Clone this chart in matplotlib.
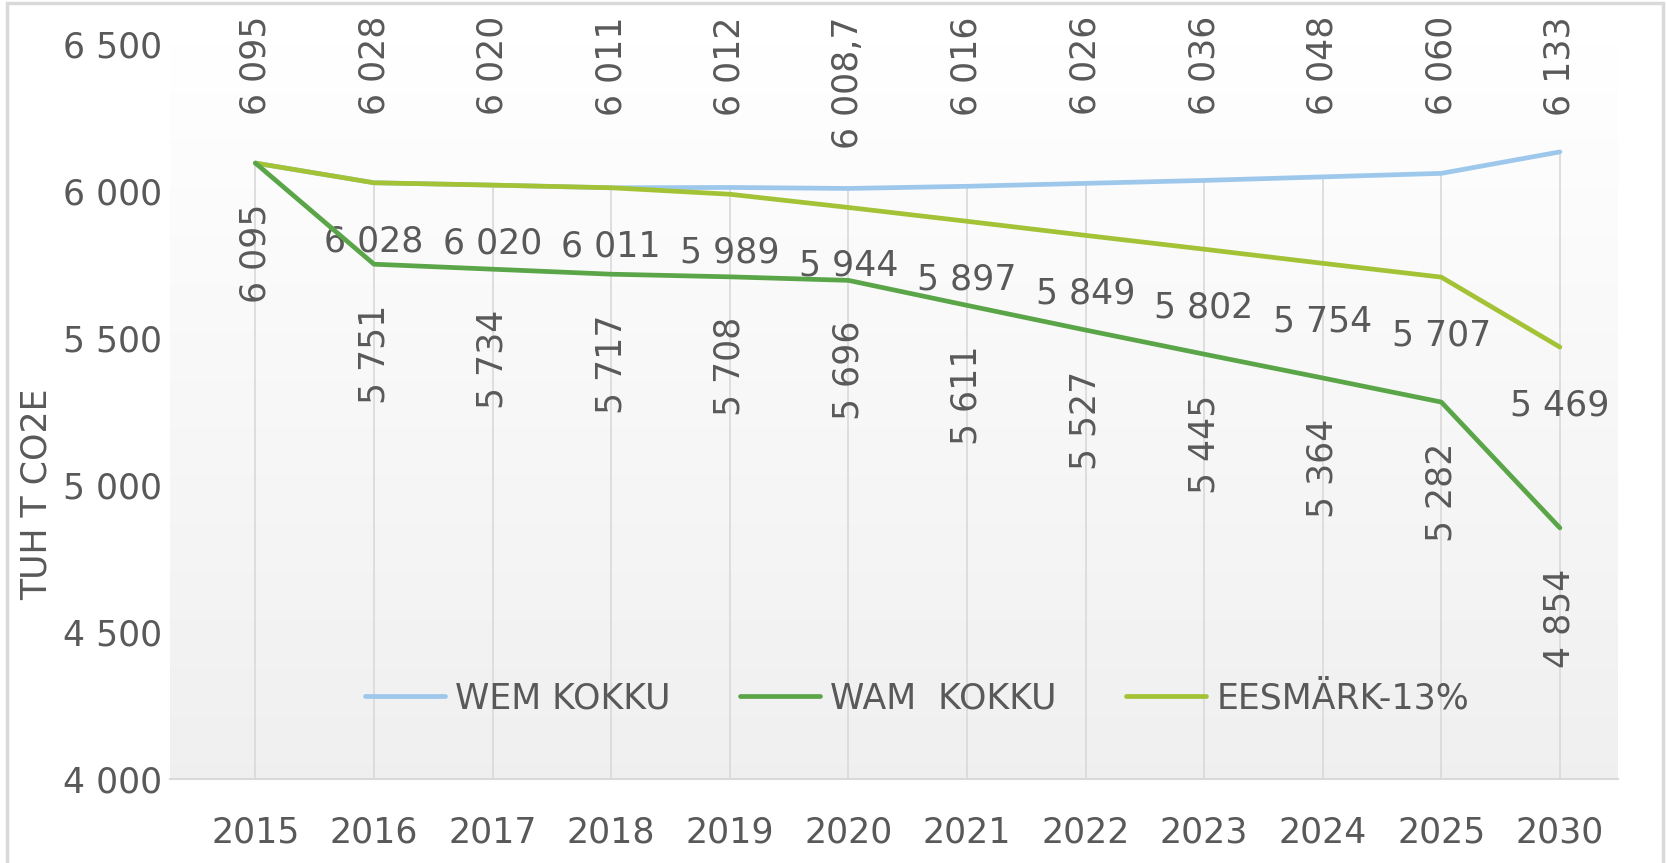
import numpy as np
import matplotlib
matplotlib.use("Agg")
import matplotlib.pyplot as plt
from matplotlib.patches import Rectangle

years = ["2015", "2016", "2017", "2018", "2019", "2020", "2021", "2022", "2023", "2024", "2025", "2030"]
wem = [6095, 6028, 6020, 6011, 6012, 6008.7, 6016, 6026, 6036, 6048, 6060, 6133]
wam = [6095, 5751, 5734, 5717, 5708, 5696, 5611, 5527, 5445, 5364, 5282, 4854]
target = [6095, 6028, 6020, 6011, 5989, 5944, 5897, 5849, 5802, 5754, 5707, 5469]
wem_labels = ["6 095", "6 028", "6 020", "6 011", "6 012", "6 008,7", "6 016", "6 026", "6 036", "6 048", "6 060", "6 133"]
wam_labels = ["6 095", "5 751", "5 734", "5 717", "5 708", "5 696", "5 611", "5 527", "5 445", "5 364", "5 282", "4 854"]
target_labels = [None, "6 028", "6 020", "6 011", "5 989", "5 944", "5 897", "5 849", "5 802", "5 754", "5 707", "5 469"]
yticks = [4000, 4500, 5000, 5500, 6000, 6500]

c_wem = "#9DC8EC"
c_wam = "#5AA548"
c_target = "#A4C236"
txt = "#595959"
fs = 25

plt.rcParams["font.family"] = "DejaVu Sans"

fig = plt.figure(figsize=(16.67, 8.63), dpi=100)
ax = fig.add_axes([0.102, 0.0974, 0.8686, 0.8516])

x = np.arange(len(years))

# gradient plot area
grad = np.linspace(1.0, 0.94, 256).reshape(-1, 1)
ax.imshow(np.dstack([grad, grad, grad]), extent=[0, 1, 0, 1], transform=ax.transAxes,
          aspect="auto", zorder=0)

# drop lines
tops = np.max([wem, wam, target], axis=0)
ax.vlines(x, 4000, tops, color="#d9d9d9", lw=1.2, zorder=1)

ax.plot(x, wem, color=c_wem, lw=3.4, label="WEM KOKKU", zorder=3, solid_capstyle="round")
ax.plot(x, wam, color=c_wam, lw=3.4, label="WAM  KOKKU", zorder=4, solid_capstyle="round")
ax.plot(x, target, color=c_target, lw=3.4, label="EESMÄRK-13%", zorder=3, solid_capstyle="round")

for xi, lab in zip(x, wem_labels):
    ax.text(xi, 6595, lab, rotation=90, ha="center", va="top", fontsize=fs, color=txt, clip_on=False)
for xi, v, lab in zip(x, wam, wam_labels):
    ax.annotate(lab, (xi, v), xytext=(0, -29), textcoords="offset points", rotation=90,
                ha="center", va="top", fontsize=fs, color=txt)
for xi, v, lab in zip(x, target, target_labels):
    if lab:
        ax.annotate(lab, (xi, v), xytext=(0, -42), textcoords="offset points",
                    ha="center", va="center", fontsize=fs, color=txt)

ax.set_xlim(-0.72, 11.49)
ax.set_ylim(4000, 6500)
ax.set_xticks(x)
ax.set_xticklabels(years)
ax.set_yticks(yticks)
ax.set_yticklabels([f"{t:,}".replace(",", " ") for t in yticks])
ax.tick_params(axis="both", length=0, labelsize=fs, labelcolor=txt)
ax.tick_params(axis="x", pad=26)
ax.tick_params(axis="y", pad=6)
for s in ["top", "right", "left"]:
    ax.spines[s].set_visible(False)
ax.spines["bottom"].set_color("#d9d9d9")
ax.spines["bottom"].set_linewidth(1.5)

leg = ax.legend(loc="center", bbox_to_anchor=(0.516, 0.110), ncol=3, frameon=False,
                fontsize=fs, handlelength=2.3, handletextpad=0.3, columnspacing=2.0)
for t in leg.get_texts():
    t.set_color(txt)

fig.text(37 / 1667, 1 - 494 / 863, "TUH T CO2E", rotation=90, ha="center", va="center",
         fontsize=fs, color=txt)

fig.patches.append(Rectangle((7 / 1667, -0.05), 1656 / 1667, 1.05 - 3 / 863,
                             transform=fig.transFigure, fill=False, edgecolor="#d9d9d9", lw=2.5))

fig.savefig("out.png", dpi=100)
